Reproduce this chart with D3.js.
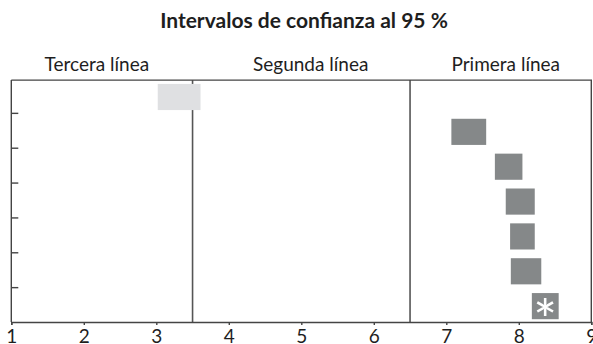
<!DOCTYPE html>
<html>
<head>
<meta charset="utf-8">
<script src="https://cdn.jsdelivr.net/npm/d3@7"></script>
<style>
  body { margin: 0; background: #fff; }
  svg text { font-family: Lato, "Open Sans", sans-serif; fill: #1e1e1e; }
</style>
</head>
<body>
<div id="chart"></div>
<script>
// rows counted from the bottom of the plot
const rows = [0, 1, 2, 3, 4, 5, 6];
const lower = [8.18, 7.89, 7.88, 7.82, 7.67, 7.07, 3.02];
const upper = [8.55, 8.31, 8.22, 8.22, 8.05, 7.55, 3.61];
const lightRow = [false, false, false, false, false, false, true];
const starRow = [true, false, false, false, false, false, false];

const xTicks = [1, 2, 3, 4, 5, 6, 7, 8, 9];
const cutLines = [3.5, 6.5];
const sections = ["Tercera línea", "Segunda línea", "Primera línea"];
const sectionPos = [2.18, 5.13, 7.82];
const title = "Intervalos de confianza al 95 %";

const width = 593, height = 344;

const svg = d3.select('#chart').append('svg')
    .attr('width', width)
    .attr('height', height);

const x = d3.scaleLinear().domain([1, 9]).range([11.3, 591.3]);
const y = d3.scaleLinear().domain([0, 7]).range([322, 78]);
const yTop = 6.94;

// title
svg.append('text')
    .attr('x', 304)
    .attr('y', 28)
    .attr('text-anchor', 'middle')
    .style('font-size', '21px')
    .style('font-weight', 'bold')
    .text(title);

// section labels
svg.selectAll('.section').data(sections).enter()
    .append('text')
    .attr('class', 'section')
    .attr('x', (d, i) => x(sectionPos[i]))
    .attr('y', 71)
    .attr('text-anchor', 'middle')
    .style('font-size', '19px')
    .text(d => d);

// bars
let bars = svg.append('g').selectAll('rect').data(rows).enter()
    .append('rect')
    .attr('x', i => x(lower[i]))
    .attr('width', i => x(upper[i]) - x(lower[i]))
    .attr('y', i => y(i + 0.83))
    .attr('height', i => y(i + 0.08) - y(i + 0.83))
    .attr('fill', i => lightRow[i] ? '#dfe0e2' : '#858889');

// vertical separators (drawn under the light bar)
svg.insert('g', 'g').selectAll('line').data(cutLines).enter()
    .append('line')
    .attr('x1', d => x(d)).attr('x2', d => x(d))
    .attr('y1', y(yTop)).attr('y2', y(0))
    .attr('stroke', '#555')
    .attr('stroke-width', 1.6);

// asterisk marks
svg.append('g').selectAll('text').data(rows.filter(i => starRow[i])).enter()
    .append('text')
    .attr('x', i => (x(lower[i]) + x(upper[i])) / 2)
    .attr('y', i => y(i + 0.455) + 34)
    .attr('text-anchor', 'middle')
    .style('font-size', '56px')
    .style('fill', '#fff')
    .text('*');

// frame: top and right edges
svg.append('path')
    .attr('d', `M${x(1)},${y(yTop)}H${x(9)}V${y(0)}`)
    .attr('fill', 'none')
    .attr('stroke', '#444')
    .attr('stroke-width', 1.4);

// left axis
const yAxis = d3.axisRight(y).tickValues([1, 2, 3, 4, 5, 6]).tickSize(7).tickFormat('');
svg.append('g')
    .attr('transform', `translate(${x(1)},0)`)
    .call(yAxis)
    .call(g => g.select('.domain').remove())
    .call(g => g.selectAll('line').attr('stroke', '#444').attr('stroke-width', 1.4));
svg.append('line')
    .attr('x1', x(1)).attr('x2', x(1))
    .attr('y1', y(yTop)).attr('y2', y(0))
    .attr('stroke', '#444').attr('stroke-width', 1.4);

// bottom axis
const xAxis = d3.axisBottom(x).tickValues(xTicks).tickSize(3).tickPadding(4);
svg.append('g')
    .attr('transform', `translate(0,${y(0)})`)
    .call(xAxis)
    .call(g => g.select('.domain').attr('stroke', '#444').attr('stroke-width', 1.4))
    .call(g => g.selectAll('line').attr('stroke', '#444').attr('stroke-width', 1.4))
    .call(g => g.selectAll('text')
        .attr('dy', null).attr('y', 20.5)
        .style('font-size', '19px')
        .style('font-family', 'Lato, sans-serif')
        .attr('fill', '#1e1e1e'));
</script>
</body>
</html>
